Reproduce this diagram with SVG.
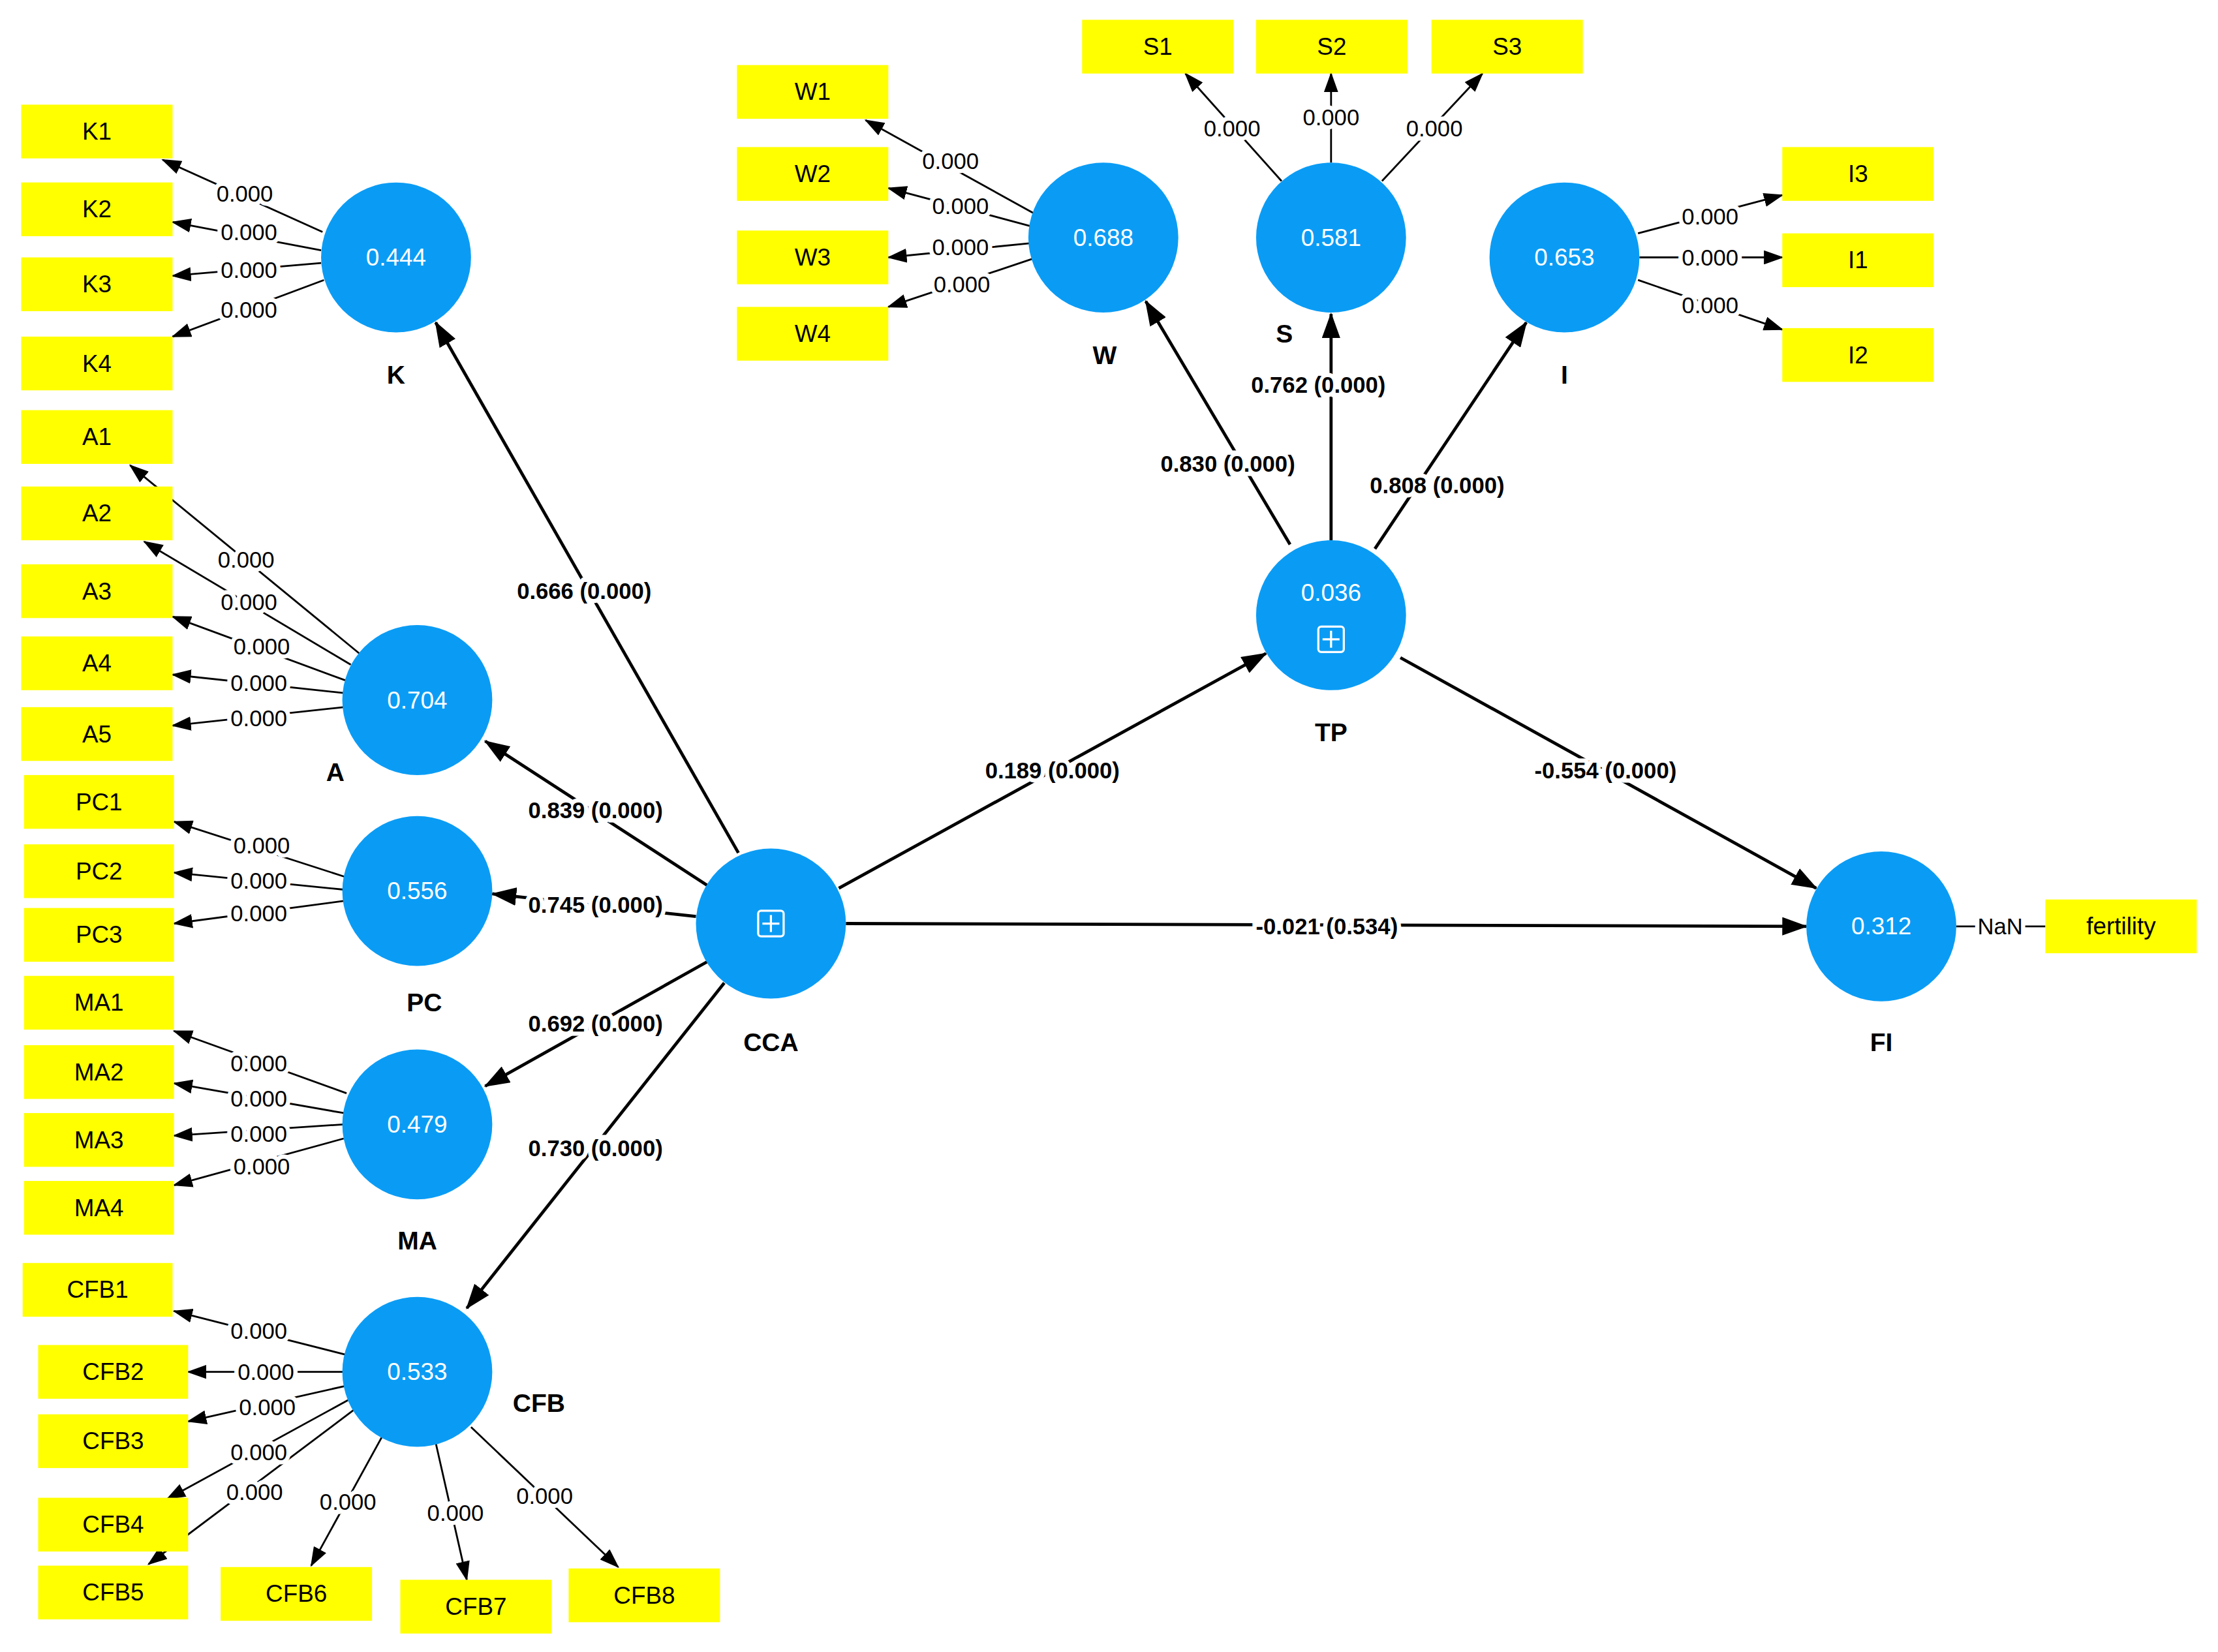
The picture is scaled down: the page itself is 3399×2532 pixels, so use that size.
<svg xmlns="http://www.w3.org/2000/svg" width="3399" height="2532" viewBox="0 0 3399 2532">
<defs>
<marker id="a1" markerUnits="userSpaceOnUse" markerWidth="14" markerHeight="10" refX="13" refY="5" orient="auto"><path d="M0,0 L14,5 L0,10 Z" fill="#000"/></marker>
<marker id="a2" markerUnits="userSpaceOnUse" markerWidth="18" markerHeight="13" refX="17" refY="6.5" orient="auto"><path d="M0,0 L18,6.5 L0,13 Z" fill="#000"/></marker>
<style>
.box{fill:#ffff00}
.bt{font-family:"Liberation Sans",Arial,sans-serif;font-size:17px;fill:#000;text-anchor:middle;dominant-baseline:central}
.c{fill:#0a9cf5}
.ct{font-family:"Liberation Sans",Arial,sans-serif;font-size:17px;fill:#fff;text-anchor:middle;dominant-baseline:central}
.nl{font-family:"Liberation Sans",Arial,sans-serif;font-size:18px;font-weight:bold;fill:#000;text-anchor:middle;dominant-baseline:central}
.il{stroke:#000;stroke-width:1.3;fill:none;marker-end:url(#a1)}
.sl{stroke:#000;stroke-width:2.2;fill:none;marker-end:url(#a2)}
.el{font-family:"Liberation Sans",Arial,sans-serif;font-size:16px;fill:#000;text-anchor:middle;dominant-baseline:central;paint-order:stroke;stroke:#fff;stroke-width:6px}
.sel{font-family:"Liberation Sans",Arial,sans-serif;font-size:16px;font-weight:bold;fill:#000;text-anchor:middle;dominant-baseline:central;paint-order:stroke;stroke:#fff;stroke-width:6px}
</style>
</defs>
<rect width="3399" height="2532" fill="#fff"/>
<g transform="scale(2.1677)">
<g id="connectors">
<line class="il" x1="228" y1="164" x2="115" y2="113"/>
<line class="il" x1="227" y1="177" x2="122" y2="157"/>
<line class="il" x1="227" y1="186" x2="122" y2="195"/>
<line class="il" x1="229" y1="198" x2="122" y2="238"/>
<line class="il" x1="254" y1="462" x2="92" y2="329"/>
<line class="il" x1="248" y1="470" x2="102" y2="383"/>
<line class="il" x1="244" y1="481" x2="122" y2="436"/>
<line class="il" x1="243" y1="490" x2="122" y2="477"/>
<line class="il" x1="243" y1="500" x2="122" y2="513"/>
<line class="il" x1="244" y1="620" x2="123" y2="581"/>
<line class="il" x1="243" y1="629" x2="123" y2="617"/>
<line class="il" x1="243" y1="637" x2="123" y2="653"/>
<line class="il" x1="245" y1="773" x2="123" y2="729"/>
<line class="il" x1="243" y1="787" x2="123" y2="766"/>
<line class="il" x1="243" y1="795" x2="123" y2="803"/>
<line class="il" x1="243" y1="805" x2="123" y2="838"/>
<line class="il" x1="245" y1="958" x2="123" y2="927"/>
<line class="il" x1="243" y1="970" x2="133" y2="970"/>
<line class="il" x1="244" y1="980" x2="133" y2="1005"/>
<line class="il" x1="246" y1="990" x2="118" y2="1060"/>
<line class="il" x1="250" y1="997" x2="105" y2="1106"/>
<line class="il" x1="270" y1="1016" x2="220" y2="1107"/>
<line class="il" x1="308" y1="1020" x2="330" y2="1117"/>
<line class="il" x1="333" y1="1009" x2="437" y2="1108"/>
<line class="il" x1="733" y1="152" x2="612" y2="85"/>
<line class="il" x1="729" y1="160" x2="628" y2="133"/>
<line class="il" x1="728" y1="172" x2="628" y2="182"/>
<line class="il" x1="730" y1="183" x2="628" y2="217"/>
<line class="il" x1="906" y1="128" x2="838" y2="52"/>
<line class="il" x1="941" y1="115" x2="941" y2="52"/>
<line class="il" x1="977" y1="128" x2="1048" y2="52"/>
<line class="il" x1="1158" y1="165" x2="1260" y2="138"/>
<line class="il" x1="1159" y1="182" x2="1260" y2="182"/>
<line class="il" x1="1158" y1="198" x2="1260" y2="233"/>
<line x1="1383" y1="655" x2="1446" y2="655" stroke="#000" stroke-width="1.3"/>
<line class="sl" x1="522" y1="603" x2="308" y2="228"/>
<line class="sl" x1="500" y1="626" x2="343" y2="524"/>
<line class="sl" x1="492" y1="648" x2="348" y2="632"/>
<line class="sl" x1="500" y1="680" x2="343" y2="768"/>
<line class="sl" x1="512" y1="695" x2="330" y2="925"/>
<line class="sl" x1="593" y1="628" x2="895" y2="462"/>
<line class="sl" x1="598" y1="653" x2="1277" y2="655"/>
<line class="sl" x1="912" y1="385" x2="810" y2="213"/>
<line class="sl" x1="941" y1="382" x2="941" y2="222"/>
<line class="sl" x1="972" y1="388" x2="1079" y2="228"/>
<line class="sl" x1="990" y1="465" x2="1284" y2="628"/>
<text class="el" x="173" y="137">0.000</text>
<text class="el" x="176" y="164">0.000</text>
<text class="el" x="176" y="191">0.000</text>
<text class="el" x="176" y="219">0.000</text>
<text class="el" x="174" y="396">0.000</text>
<text class="el" x="176" y="426">0.000</text>
<text class="el" x="185" y="457">0.000</text>
<text class="el" x="183" y="483">0.000</text>
<text class="el" x="183" y="508">0.000</text>
<text class="el" x="185" y="598">0.000</text>
<text class="el" x="183" y="623">0.000</text>
<text class="el" x="183" y="646">0.000</text>
<text class="el" x="183" y="752">0.000</text>
<text class="el" x="183" y="777">0.000</text>
<text class="el" x="183" y="802">0.000</text>
<text class="el" x="185" y="825">0.000</text>
<text class="el" x="183" y="941">0.000</text>
<text class="el" x="188" y="970">0.000</text>
<text class="el" x="189" y="995">0.000</text>
<text class="el" x="183" y="1027">0.000</text>
<text class="el" x="180" y="1055">0.000</text>
<text class="el" x="246" y="1062">0.000</text>
<text class="el" x="322" y="1070">0.000</text>
<text class="el" x="385" y="1058">0.000</text>
<text class="el" x="672" y="114">0.000</text>
<text class="el" x="679" y="146">0.000</text>
<text class="el" x="679" y="175">0.000</text>
<text class="el" x="680" y="201">0.000</text>
<text class="el" x="871" y="91">0.000</text>
<text class="el" x="941" y="83">0.000</text>
<text class="el" x="1014" y="91">0.000</text>
<text class="el" x="1209" y="153">0.000</text>
<text class="el" x="1209" y="182">0.000</text>
<text class="el" x="1209" y="216">0.000</text>
<text class="el" x="1414" y="655">NaN</text>
<text class="sel" x="413" y="418">0.666 (0.000)</text>
<text class="sel" x="421" y="573">0.839 (0.000)</text>
<text class="sel" x="421" y="640">0.745 (0.000)</text>
<text class="sel" x="421" y="724">0.692 (0.000)</text>
<text class="sel" x="421" y="812">0.730 (0.000)</text>
<text class="sel" x="744" y="545">0.189 (0.000)</text>
<text class="sel" x="938" y="655">-0.021 (0.534)</text>
<text class="sel" x="868" y="328">0.830 (0.000)</text>
<text class="sel" x="932" y="272">0.762 (0.000)</text>
<text class="sel" x="1016" y="343">0.808 (0.000)</text>
<text class="sel" x="1135" y="545">-0.554 (0.000)</text>
</g>
<g id="indicators">
<g id="K1"><rect class="box" x="15" y="74" width="107" height="38"/><text class="bt" x="68.5" y="93">K1</text></g>
<g id="K2"><rect class="box" x="15" y="129" width="107" height="38"/><text class="bt" x="68.5" y="148">K2</text></g>
<g id="K3"><rect class="box" x="15" y="182" width="107" height="38"/><text class="bt" x="68.5" y="201">K3</text></g>
<g id="K4"><rect class="box" x="15" y="238" width="107" height="38"/><text class="bt" x="68.5" y="257">K4</text></g>
<g id="A1"><rect class="box" x="15" y="290" width="107" height="38"/><text class="bt" x="68.5" y="309">A1</text></g>
<g id="A2"><rect class="box" x="15" y="344" width="107" height="38"/><text class="bt" x="68.5" y="363">A2</text></g>
<g id="A3"><rect class="box" x="15" y="399" width="107" height="38"/><text class="bt" x="68.5" y="418">A3</text></g>
<g id="A4"><rect class="box" x="15" y="450" width="107" height="38"/><text class="bt" x="68.5" y="469">A4</text></g>
<g id="A5"><rect class="box" x="15" y="500" width="107" height="38"/><text class="bt" x="68.5" y="519">A5</text></g>
<g id="PC1"><rect class="box" x="17" y="548" width="106" height="38"/><text class="bt" x="70" y="567">PC1</text></g>
<g id="PC2"><rect class="box" x="17" y="597" width="106" height="38"/><text class="bt" x="70" y="616">PC2</text></g>
<g id="PC3"><rect class="box" x="17" y="642" width="106" height="38"/><text class="bt" x="70" y="661">PC3</text></g>
<g id="MA1"><rect class="box" x="17" y="690" width="106" height="38"/><text class="bt" x="70" y="709">MA1</text></g>
<g id="MA2"><rect class="box" x="17" y="739" width="106" height="38"/><text class="bt" x="70" y="758">MA2</text></g>
<g id="MA3"><rect class="box" x="17" y="787" width="106" height="38"/><text class="bt" x="70" y="806">MA3</text></g>
<g id="MA4"><rect class="box" x="17" y="835" width="106" height="38"/><text class="bt" x="70" y="854">MA4</text></g>
<g id="CFB1"><rect class="box" x="16" y="893" width="106" height="38"/><text class="bt" x="69" y="912">CFB1</text></g>
<g id="CFB2"><rect class="box" x="27" y="951" width="106" height="38"/><text class="bt" x="80" y="970">CFB2</text></g>
<g id="CFB3"><rect class="box" x="27" y="1000" width="106" height="38"/><text class="bt" x="80" y="1019">CFB3</text></g>
<g id="CFB4"><rect class="box" x="27" y="1059" width="106" height="38"/><text class="bt" x="80" y="1078">CFB4</text></g>
<g id="CFB5"><rect class="box" x="27" y="1107" width="106" height="38"/><text class="bt" x="80" y="1126">CFB5</text></g>
<g id="CFB6"><rect class="box" x="156" y="1108" width="107" height="38"/><text class="bt" x="209.5" y="1127">CFB6</text></g>
<g id="CFB7"><rect class="box" x="283" y="1117" width="107" height="38"/><text class="bt" x="336.5" y="1136">CFB7</text></g>
<g id="CFB8"><rect class="box" x="402" y="1109" width="107" height="38"/><text class="bt" x="455.5" y="1128">CFB8</text></g>
<g id="W1"><rect class="box" x="521" y="46" width="107" height="38"/><text class="bt" x="574.5" y="65">W1</text></g>
<g id="W2"><rect class="box" x="521" y="104" width="107" height="38"/><text class="bt" x="574.5" y="123">W2</text></g>
<g id="W3"><rect class="box" x="521" y="163" width="107" height="38"/><text class="bt" x="574.5" y="182">W3</text></g>
<g id="W4"><rect class="box" x="521" y="217" width="107" height="38"/><text class="bt" x="574.5" y="236">W4</text></g>
<g id="S1"><rect class="box" x="765" y="14" width="107" height="38"/><text class="bt" x="818.5" y="33">S1</text></g>
<g id="S2"><rect class="box" x="888" y="14" width="107" height="38"/><text class="bt" x="941.5" y="33">S2</text></g>
<g id="S3"><rect class="box" x="1012" y="14" width="107" height="38"/><text class="bt" x="1065.5" y="33">S3</text></g>
<g id="I3"><rect class="box" x="1260" y="104" width="107" height="38"/><text class="bt" x="1313.5" y="123">I3</text></g>
<g id="I1"><rect class="box" x="1260" y="165" width="107" height="38"/><text class="bt" x="1313.5" y="184">I1</text></g>
<g id="I2"><rect class="box" x="1260" y="232" width="107" height="38"/><text class="bt" x="1313.5" y="251">I2</text></g>
<g id="fertility"><rect class="box" x="1446" y="636" width="107" height="38"/><text class="bt" x="1499.5" y="655">fertility</text></g>
</g>
<g id="K"><circle class="c" cx="280" cy="182" r="53"/><text class="ct" x="280" y="182">0.444</text><text class="nl" x="280" y="265">K</text></g>
<g id="A"><circle class="c" cx="295" cy="495" r="53"/><text class="ct" x="295" y="495">0.704</text><text class="nl" x="237" y="546">A</text></g>
<g id="PC"><circle class="c" cx="295" cy="630" r="53"/><text class="ct" x="295" y="630">0.556</text><text class="nl" x="300" y="709">PC</text></g>
<g id="MA"><circle class="c" cx="295" cy="795" r="53"/><text class="ct" x="295" y="795">0.479</text><text class="nl" x="295" y="877">MA</text></g>
<g id="CFB"><circle class="c" cx="295" cy="970" r="53"/><text class="ct" x="295" y="970">0.533</text><text class="nl" x="381" y="992" font-weight="normal">CFB</text></g>
<g id="CCA"><circle class="c" cx="545" cy="653" r="53"/><rect x="536" y="644" width="18" height="18" rx="2" fill="none" stroke="#fff" stroke-width="1.5"/><path d="M545,647 V659 M539,653 H551" stroke="#fff" stroke-width="1.5"/><text class="nl" x="545" y="737">CCA</text></g>
<g id="W"><circle class="c" cx="780" cy="168" r="53"/><text class="ct" x="780" y="168">0.688</text><text class="nl" x="781" y="251">W</text></g>
<g id="S"><circle class="c" cx="941" cy="168" r="53"/><text class="ct" x="941" y="168">0.581</text><text class="nl" x="908" y="236">S</text></g>
<g id="I"><circle class="c" cx="1106" cy="182" r="53"/><text class="ct" x="1106" y="182">0.653</text><text class="nl" x="1106" y="265">I</text></g>
<g id="TP"><circle class="c" cx="941" cy="435" r="53"/><text class="ct" x="941" y="419">0.036</text><rect x="932" y="443" width="18" height="18" rx="2" fill="none" stroke="#fff" stroke-width="1.5"/><path d="M941,446 V458 M935,452 H947" stroke="#fff" stroke-width="1.5"/><text class="nl" x="941" y="518">TP</text></g>
<g id="FI"><circle class="c" cx="1330" cy="655" r="53"/><text class="ct" x="1330" y="655">0.312</text><text class="nl" x="1330" y="737">FI</text></g>
</g>
</svg>
